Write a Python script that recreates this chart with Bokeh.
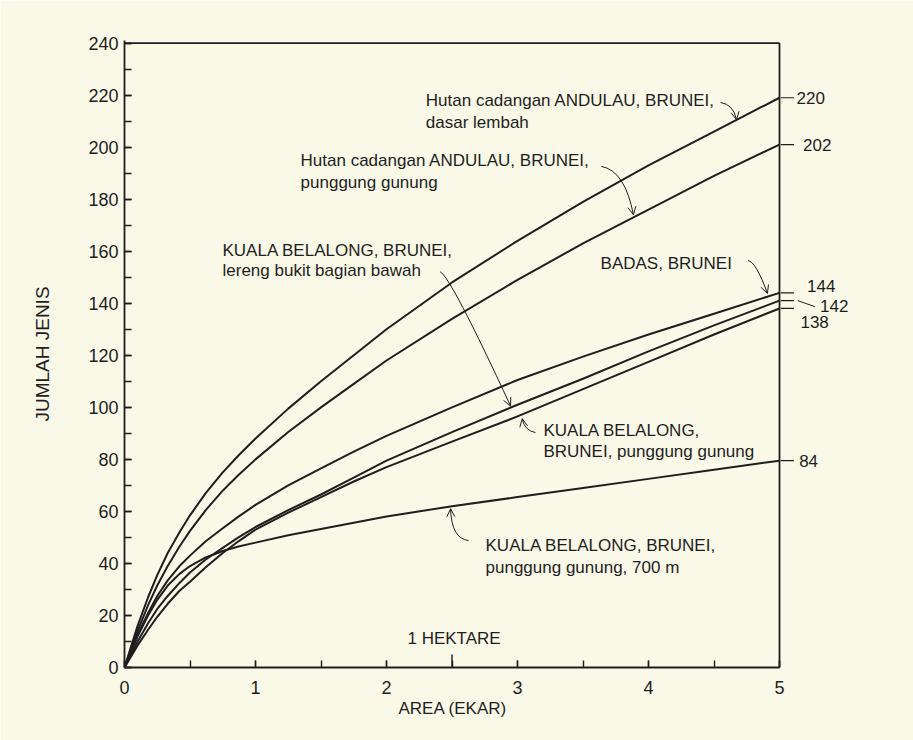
from bokeh.plotting import figure
from bokeh.models import Range1d, SingleIntervalTicker, Arrow, OpenHead, Title
from bokeh.core.properties import value
from bokeh.embed import file_html
from bokeh.resources import INLINE

# ---- data ----
area = [0, 0.1, 0.18, 0.25, 0.33, 0.42, 0.5, 0.62, 0.75, 0.87, 1, 1.25, 1.5, 1.75, 2,
        2.5, 3, 3.5, 4, 4.5, 5]
andulau_lembah = [0, 16, 27, 35.5, 44, 52, 58.5, 67, 75, 81.5, 88, 99.5, 110, 120, 130,
                  148, 164, 179, 193, 206, 219]
andulau_punggung = [0, 14, 24, 31.5, 39, 46.5, 52.5, 60.5, 68, 74, 80, 90.5, 100, 109, 118,
                    134, 149, 163, 176, 189, 201]
badas = [0, 12.5, 21, 27.5, 33.5, 39, 43, 48.5, 53.5, 58, 62.5, 70, 76.5, 83, 89,
         100, 110.5, 119.5, 128, 136, 144]
belalong_lereng = [0, 10, 17, 22.5, 27.5, 32.5, 36.5, 41.5, 46, 50, 54, 60.5, 66.5, 73, 79.5,
                   90.5, 101, 111, 121.5, 131.5, 141]
belalong_punggung = [0, 8.5, 14.5, 19.5, 24.5, 29.5, 33, 38.5, 44, 48.5, 53, 59.5, 65.5, 71.5, 77,
                     86.8, 96.5, 107, 117.5, 128, 138]
belalong_700m = [0, 12, 20, 26, 31.5, 36, 39, 42.3, 44.8, 46.5, 48, 50.8, 53.2, 55.6, 58,
                 62, 65.5, 69, 72.5, 76, 79.5]
end_labels = ["220", "202", "144", "142", "138", "84"]

INK = "#1e1e1e"
BG = "#faf8e7"
FONT = value("Liberation Sans")

p = figure(width=913, height=740, x_range=Range1d(0, 6.0), y_range=Range1d(0, 241),
           output_backend="svg", toolbar_location=None,
           min_border_left=124, min_border_right=3, min_border_top=40, min_border_bottom=73,
           background_fill_color=BG, border_fill_color=BG, outline_line_color=None)
p.grid.visible = False

# axes
xa = p.xaxis[0]
xa.ticker = SingleIntervalTicker(interval=1, num_minor_ticks=2)
xa.bounds = (0, 5)
ya = p.yaxis[0]
ya.ticker = SingleIntervalTicker(interval=20, num_minor_ticks=2)
for ax in (xa, ya):
    ax.major_tick_in = 7
    ax.major_tick_out = 0
    ax.minor_tick_in = 7
    ax.minor_tick_out = 0
    ax.axis_line_width = 1.8
    ax.axis_line_color = INK
    ax.major_tick_line_color = INK
    ax.minor_tick_line_color = INK
    ax.major_tick_line_width = 1.4
    ax.minor_tick_line_width = 1.4
    ax.major_label_text_font = "Liberation Sans"
    ax.major_label_text_font_size = "18px"
    ax.major_label_text_color = INK
    ax.axis_label_text_font = "Liberation Sans"
    ax.axis_label_text_font_style = "normal"
    ax.axis_label_text_color = INK
xa.major_label_standoff = 13
ya.axis_label = "JUMLAH JENIS"
ya.axis_label_text_font_size = "19px"
ya.major_label_standoff = 6
ya.axis_label_standoff = 32

# x-axis title centred under the 0-5 span
p.add_layout(Title(text="AREA (EKAR)", align="left", offset=274, standoff=0,
                   text_font="Liberation Sans", text_font_size="17px",
                   text_font_style="normal", text_color=INK), "below")

# frame top & right borders, tall tick for 1 hectare
p.segment(x0=[0, 5], y0=[240, 0], x1=[5, 5], y1=[240, 240], line_color=INK, line_width=1.8)
p.segment(x0=[2.5], y0=[0], x1=[2.5], y1=[5], line_color=INK, line_width=1.4)

series = [andulau_lembah, andulau_punggung, badas, belalong_lereng, belalong_punggung, belalong_700m]
for s in series:
    p.line(area, s, line_color=INK, line_width=2, line_join="round")

# right-hand end labels
ends = [s[-1] for s in series]
p.segment(x0=[5.01] * 6, y0=ends, x1=[5.11] * 6, y1=ends, line_color=INK, line_width=1.2)
p.segment(x0=[5.14], y0=[ends[3]], x1=[5.27], y1=[ends[3] - 2.3], line_color=INK, line_width=1)
lab_x = [5.13, 5.18, 5.21, 5.31, 5.16, 5.15]
lab_y = [ends[0], ends[1], ends[2] + 2.6, ends[3] - 2.0, ends[4] - 5.2, ends[5]]
p.text(x=lab_x, y=lab_y, text=end_labels, text_font=FONT, text_font_size=value("17px"),
       text_baseline="middle", text_align="left", text_color=INK)

# annotation texts
ann_x = [2.30, 2.30, 1.344, 1.344, 0.748, 0.748, 3.634, 3.198, 3.198, 2.756, 2.756, 2.16]
ann_y = [217.9, 209.5, 194.9, 186.4, 160.3, 152.6, 155.3, 91.1, 83.0, 46.9, 38.4, 11.1]
ann_t = ["Hutan cadangan ANDULAU, BRUNEI,", "dasar lembah",
         "Hutan cadangan ANDULAU, BRUNEI,", "punggung gunung",
         "KUALA BELALONG, BRUNEI,", "lereng bukit bagian bawah",
         "BADAS, BRUNEI",
         "KUALA BELALONG,", "BRUNEI, punggung gunung",
         "KUALA BELALONG, BRUNEI,", "punggung gunung, 700 m",
         "1 HEKTARE"]
p.text(x=ann_x, y=ann_y, text=ann_t, text_font=FONT, text_font_size=value("17px"),
       text_baseline="middle", text_align="left", text_color=INK)

# curved leader arrows: (x0, y0, cx, cy, x1, y1)
arrows = [
    (4.55, 217.2, 4.65, 216.4, 4.672, 210.5),
    (3.64, 192.6, 3.82, 191.0, 3.885, 174.0),
    (2.41, 152.1, 2.49, 150.2, 2.947, 100.5),
    (4.76, 156.4, 4.82, 156.0, 4.908, 143.8),
    (3.137, 90.3, 3.053, 91.1, 3.036, 95.6),
    (2.626, 48.8, 2.496, 49.6, 2.489, 61.0),
]
for (x0, y0, cx, cy, x1, y1) in arrows:
    p.quadratic(x0=[x0], y0=[y0], cx=[cx], cy=[cy], x1=[x1], y1=[y1], line_color=INK, line_width=1)
    p.add_layout(Arrow(end=OpenHead(size=8, line_width=1, line_color=INK), line_alpha=0,
                       x_start=cx, y_start=cy, x_end=x1, y_end=y1))

open("out.html", "w").write(file_html(p, INLINE))
